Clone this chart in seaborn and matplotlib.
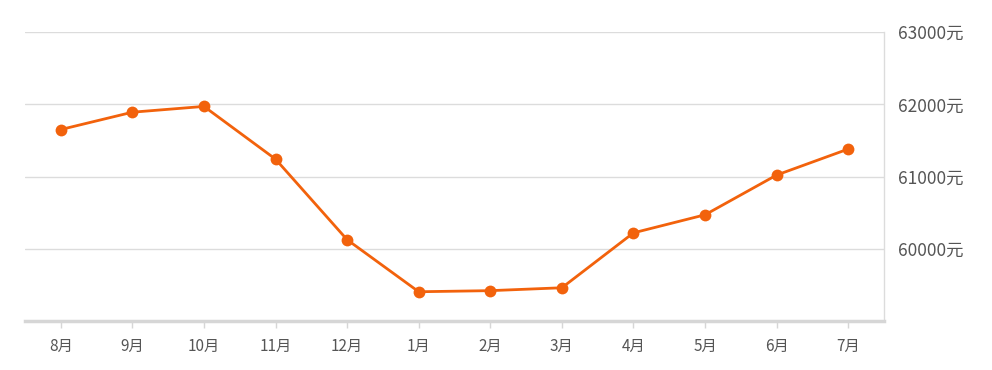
import matplotlib
matplotlib.use("Agg")
import matplotlib.pyplot as plt
import seaborn as sns
import pandas as pd

months = ["8月", "9月", "10月", "11月", "12月", "1月", "2月", "3月", "4月", "5月", "6月", "7月"]
prices = [61650, 61890, 61970, 61240, 60125, 59405, 59420, 59460, 60220, 60470, 61020, 61380]
y_ticks = [60000, 61000, 62000, 63000]
y_tick_labels = ["60000元", "61000元", "62000元", "63000元"]

sns.set_theme(style="white")
plt.rcParams["font.family"] = ["Noto Sans CJK SC", "DejaVu Sans"]

df = pd.DataFrame({"month": months, "price": prices, "idx": range(len(months))})

fig = plt.figure(figsize=(9.92, 3.70), dpi=100)
ax = fig.add_axes([25 / 992, 1 - 321 / 370, (884 - 25) / 992, (321 - 32) / 370])

sns.lineplot(data=df, x="idx", y="price", ax=ax, color="#f2620c", linewidth=2.0,
             marker="o", markersize=8.5, markeredgewidth=0, zorder=3)

ax.set_xlim(-0.5, len(months) - 0.5)
ax.set_ylim(59000, 63000)
ax.set_xticks(range(len(months)))
ax.set_xticklabels(months)
ax.set_yticks(y_ticks)
ax.set_yticklabels(y_tick_labels)
ax.yaxis.tick_right()
ax.set_xlabel("")
ax.set_ylabel("")

for v in y_ticks:
    ax.axhline(v, color="#dcdcdc", linewidth=1.0, zorder=1)

for side in ["left", "top"]:
    ax.spines[side].set_visible(False)
ax.spines["right"].set_color("#dcdcdc")
ax.spines["right"].set_linewidth(1.0)
ax.spines["bottom"].set_color("#d6d6d6")
ax.spines["bottom"].set_linewidth(2.5)

ax.tick_params(axis="x", which="both", bottom=True, length=5, width=1, color="#d6d6d6",
               labelsize=11, labelcolor="#555555", pad=7)
ax.tick_params(axis="y", which="both", right=False, length=0, labelsize=12.5,
               labelcolor="#555555", pad=10)

fig.savefig("out.png", dpi=100, facecolor="white")
